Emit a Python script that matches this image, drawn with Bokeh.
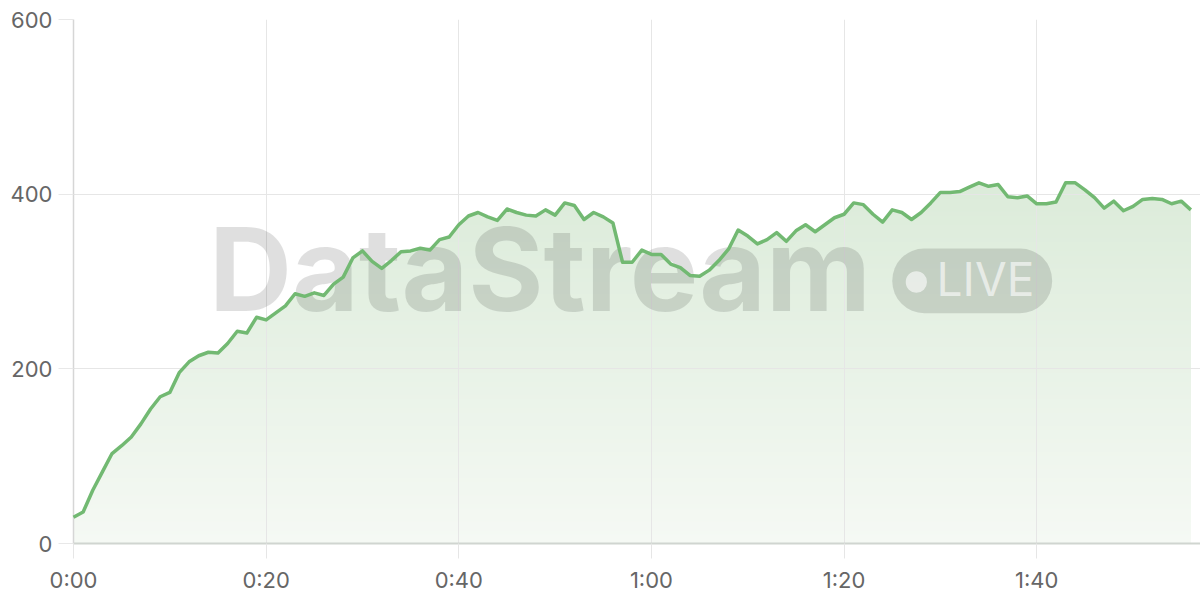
import numpy as np
from bokeh.plotting import figure
from bokeh.models import Range1d, FixedTicker, Label, BoxAnnotation
from bokeh.embed import file_html
from bokeh.resources import INLINE

# ---- data -------------------------------------------------------------
seconds = list(range(117))
rate = [30, 36, 61, 82, 103, 112, 122, 137, 154, 168,
        173, 196, 208, 215, 219, 218, 229, 243, 241, 259,
        256, 264, 272, 286, 283, 287, 284, 297, 305, 327,
        335, 323, 315, 324, 334, 335, 338, 336, 348, 351,
        365, 375, 379, 374, 370, 383, 379, 376, 375, 382,
        376, 390, 387, 371, 379, 374, 367, 322, 322, 336,
        331, 331, 320, 316, 307, 306, 313, 324, 337, 359,
        352, 343, 348, 356, 346, 358, 365, 357, 365, 373,
        377, 390, 388, 377, 368, 382, 379, 371, 379, 390,
        402, 402, 403, 408, 413, 409, 411, 397, 396, 398,
        389, 389, 391, 413, 413, 405, 396, 384, 392, 381,
        386, 394, 395, 394, 389, 392, 382]
x_tick_values = [0, 20, 40, 60, 80, 100]
x_tick_labels = ["0:00", "0:20", "0:40", "1:00", "1:20", "1:40"]
y_tick_values = [0, 200, 400, 600]

LINE_GREEN = "#72b972"
FILL_BOTTOM = (245, 249, 244)
FILL_TOP = (219, 235, 217)
FONT = "Inter"

p = figure(width=1200, height=600, output_backend="svg", toolbar_location=None,
           x_range=Range1d(0, 117), y_range=Range1d(0, 600),
           min_border_left=73, min_border_right=0, min_border_top=19,
           min_border_bottom=57)
p.outline_line_color = None
p.background_fill_color = "white"
p.border_fill_color = "white"

# grid (drawn above the opaque gradient fill)
for g in (p.xgrid, p.ygrid):
    g.grid_line_color = "#e6e6e6"
    g.grid_line_width = 1
    g.level = "glyph"

# x axis
p.xaxis.ticker = FixedTicker(ticks=x_tick_values)
p.xaxis.major_label_overrides = dict(zip(x_tick_values, x_tick_labels))
p.xaxis.axis_line_color = "#d0d5d0"
p.xaxis.axis_line_width = 2
p.xaxis.major_tick_line_color = "#e6e6e6"
p.xaxis.major_tick_out = 15
p.xaxis.major_tick_in = 0
p.xaxis.minor_tick_line_color = None
p.xaxis.major_label_standoff = 8

# y axis
p.yaxis.ticker = FixedTicker(ticks=y_tick_values)
p.yaxis.axis_line_color = "#d6d6d6"
p.yaxis.axis_line_width = 1.5
p.yaxis.major_tick_line_color = "#e8e8e8"
p.yaxis.major_tick_out = 15
p.yaxis.major_tick_in = 0
p.yaxis.minor_tick_line_color = None
p.yaxis.major_label_standoff = 6

for ax in (p.xaxis, p.yaxis):
    ax.major_label_text_font = FONT
    ax.major_label_text_font_size = "22px"
    ax.major_label_text_color = "#666666"

# ---- gradient area: opaque stacked bands -------------------------------
rate_arr = np.array(rate, dtype=float)
top_val = rate_arr.max()
step = 5
for lev in np.arange(0, top_val, step):
    f = min((lev + step / 2) / 420.0, 1.0)
    col = tuple(int(round(b + (t - b) * f)) for b, t in zip(FILL_BOTTOM, FILL_TOP))
    p.varea(x=seconds, y1=np.minimum(lev, rate_arr), y2=rate,
            fill_color="#%02x%02x%02x" % col, fill_alpha=1.0)

# ---- watermark (decoration) -------------------------------------------
p.add_layout(Label(x=14.07, y=313.8, text="DataStream", text_font=FONT,
                   text_font_size="115px", text_font_style="bold",
                   text_color="black", text_alpha=0.125,
                   text_baseline="alphabetic", text_align="left",
                   level="glyph"))
p.add_layout(BoxAnnotation(left=85.0, right=101.6, bottom=263.7, top=337.8,
                           fill_color="black", fill_alpha=0.13,
                           line_color=None, border_radius=32,
                           level="glyph"))
p.add_layout(BoxAnnotation(left=86.4, right=88.6, bottom=287.1, top=311.8,
                           fill_color="white", fill_alpha=0.6,
                           line_color=None, border_radius=11,
                           level="glyph"))
p.add_layout(Label(x=89.6, y=302.3, text="LIVE", text_font=FONT,
                   text_font_size="46px", text_color="white", text_alpha=0.6,
                   text_baseline="alphabetic", text_align="left",
                   level="glyph"))

line = p.line(seconds, rate, line_color=LINE_GREEN, line_width=3.5,
              line_join="round")
line.level = "annotation"

open("out.html", "w").write(file_html(p, INLINE))
